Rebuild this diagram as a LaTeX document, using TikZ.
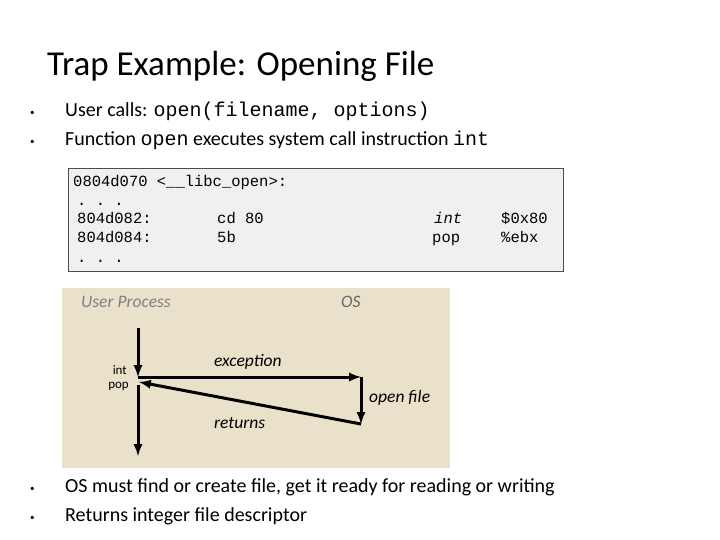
\documentclass[tikz,border=0pt]{standalone}
\usepackage{fontspec}
\setmainfont{Carlito}
\setmonofont{Liberation Mono}
\newcommand{\bul}{\makebox[35pt][l]{\raisebox{1pt}{\small\textbullet}}}
\begin{document}
\begin{tikzpicture}[x=1pt,y=-1pt,
  lbl/.style={inner sep=0pt,anchor=west},
  arr/.style={line width=3pt,-latex},
  code/.style={inner sep=0pt,anchor=base west,font=\ttfamily\fontsize{15.5}{16}\selectfont}]
\useasboundingbox (0,0) rectangle (720,540);
\node[lbl,font=\fontsize{35}{40}\selectfont] (title) at (47,66) {Trap Example: Opening File};
\node[lbl,font=\fontsize{20}{22}\selectfont] (b1) at (30,111) {\bul User calls: \texttt{open(filename, options)}};
\node[lbl,font=\fontsize{20}{22}\selectfont] (b2) at (30,140) {\bul Function \texttt{open} executes system call instruction \texttt{int}};
\node[draw=black!70,fill=black!6,line width=1pt,minimum width=495pt,minimum height=103pt,anchor=north west] (codebox) at (68,168) {};
\node[code] (c0) at (73,187) {0804d070 <\_\_libc\_open>:};
\node[code] (c1) at (77,206) {. . .};
\node[code] (c2) at (77,224) {804d082:};
\node[code] (c3) at (217,224) {cd 80};
\node[code] (c4) at (434,224) {\itshape int};
\node[code] (c5) at (501,224) {\$0x80};
\node[code] (c6) at (77,243) {804d084:};
\node[code] (c7) at (217,243) {5b};
\node[code] (c8) at (432,243) {pop};
\node[code] (c9) at (501,243) {\%ebx};
\node[code] (c10) at (77,262) {. . .};
\definecolor{beige}{RGB}{233,225,202}
\node[fill=beige,anchor=north west,minimum width=388pt,minimum height=180pt,inner sep=0pt] (bg) at (62,288) {};
\node[lbl,font=\itshape\fontsize{17.5}{20}\selectfont,text=black!50] (up) at (81,302) {User Process};
\node[lbl,font=\itshape\fontsize{17.5}{20}\selectfont,text=black!60] (os) at (341,302) {OS};
\node[anchor=east,inner sep=0pt,font=\fontsize{13}{15}\selectfont] (int) at (127,370) {int};
\node[anchor=east,inner sep=0pt,font=\fontsize{13}{15}\selectfont] (pop) at (129,386) {pop};
\node[lbl,font=\itshape\fontsize{17.5}{20}\selectfont] (exc) at (214,362) {exception};
\node[lbl,font=\itshape\fontsize{17.5}{20}\selectfont] (of) at (369,398) {open file};
\node[lbl,font=\itshape\fontsize{17.5}{20}\selectfont] (ret) at (214,423) {returns};
\coordinate (a0) at (138,328);
\coordinate (a1) at (138,377);
\coordinate (a2) at (361,377);
\coordinate (a3) at (361,424);
\coordinate (a4) at (139,382);
\coordinate (a5) at (138,385);
\coordinate (a6) at (138,456);
\draw[arr] (a0) -- (a1);
\draw[arr] (a1) -- (a2);
\draw[arr] (a2) -- (a3);
\draw[arr] (a3) -- (a4);
\draw[arr] (a5) -- (a6);
\node[lbl,font=\fontsize{20}{22}\selectfont] (b3) at (30,487) {\bul OS must find or create file, get it ready for reading or writing};
\node[lbl,font=\fontsize{20}{22}\selectfont] (b4) at (30,516) {\bul Returns integer file descriptor};
\end{tikzpicture}
\end{document}
